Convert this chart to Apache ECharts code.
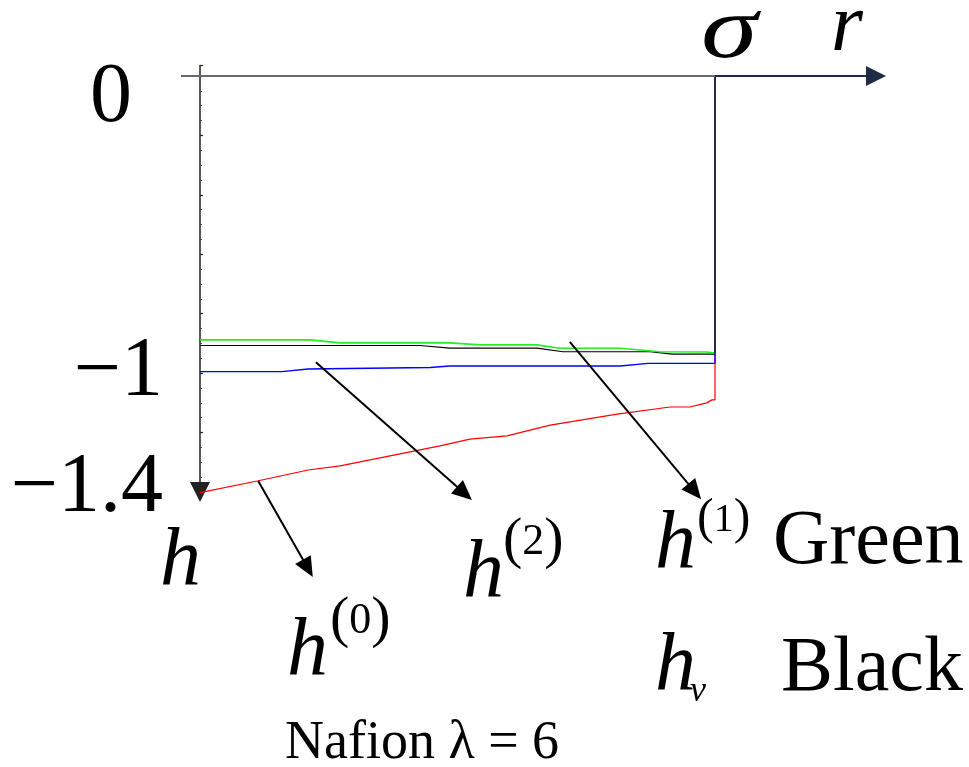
<!DOCTYPE html>
<html>
<head>
<meta charset="utf-8">
<script src="https://cdn.jsdelivr.net/npm/echarts@6/dist/echarts.min.js"></script>
<style>
  html, body { margin: 0; padding: 0; background: #ffffff; }
  #chart { width: 969px; height: 767px; }
</style>
</head>
<body>
<div id="chart"></div>
<script>
// Head profiles h(r) across the pore, r measured in units of sigma (wall at r = 1)
const rGreen = [0, 0.214, 0.272, 0.485, 0.544, 0.654, 0.699, 0.816, 0.893, 0.983, 1.0];
const hGreen = [-0.888, -0.888, -0.898, -0.898, -0.905, -0.905, -0.916, -0.916, -0.928, -0.929, -0.932];

const rBlack = [0, 0.427, 0.485, 0.654, 0.705, 0.874, 0.917, 1.0];
const hBlack = [-0.907, -0.907, -0.916, -0.916, -0.928, -0.928, -0.936, -0.936];

const rBlue = [0, 0.159, 0.210, 0.447, 0.485, 0.816, 0.870, 1.0, 1.0];
const hBlue = [-0.995, -0.995, -0.986, -0.981, -0.976, -0.976, -0.967, -0.967, -0.935];

const rRed = [0, 0.111, 0.210, 0.272, 0.466, 0.524, 0.596, 0.680, 0.810, 0.913, 0.951, 0.984, 0.994, 1.0, 1.0];
const hRed = [-1.402, -1.363, -1.326, -1.312, -1.245, -1.222, -1.211, -1.175, -1.138, -1.114, -1.114, -1.100, -1.090, -1.090, -0.935];

// wall at r = sigma
const rWall = [1.0, 1.0];
const hWall = [-0.935, 0];

// r axis segment inside the pore (0 .. sigma)
const rAxisInside = [-0.035, 1.0];
const hAxisInside = [0, 0];

// labelled ticks on the h axis
const yLabelValues = [0, -1, -1.4];
const yLabelTexts = ['0', '\u22121', '\u22121.4'];

// pointer arrows from each curve towards its name: start and tip in (r, h)
const pointerFrom = [[0.113, -1.363], [0.225, -0.963], [0.718, -0.895]];
const pointerTip  = [[0.219, -1.686], [0.528, -1.427], [0.973, -1.424]];

const zip = (xs, ys) => xs.map((x, i) => [x, ys[i]]);

const SERIF = "'Liberation Serif', serif";

function curve(name, rs, hs, color, width) {
  return {
    name: name,
    type: 'line',
    data: zip(rs, hs),
    showSymbol: false,
    symbol: 'none',
    clip: false,
    silent: true,
    lineStyle: { color: color, width: width },
    emphasis: { disabled: true }
  };
}

function yLabel(value) {
  for (let i = 0; i < yLabelValues.length; i++) {
    if (Math.abs(value - yLabelValues[i]) < 1e-6) {
      if (i === 0) return '{z|' + yLabelTexts[i] + '}';
      if (i === 2) return '{b|' + yLabelTexts[i] + '}';
      return '{n|' + yLabelTexts[i] + '}';
    }
  }
  return '';
}

const chart = echarts.init(document.getElementById('chart'), null, { renderer: 'canvas' });

const labelFont = { fontFamily: SERIF, fontSize: 84, color: '#000000' };

const option = {
  animation: false,
  backgroundColor: '#ffffff',
  grid: { left: 182, top: 65.6, width: 694, height: 426.4, containLabel: false },
  xAxis: {
    type: 'value',
    min: -0.035,
    max: 1.3126,
    axisLine: {
      show: true,
      onZero: true,
      symbol: ['none', 'triangle'],
      symbolSize: [20, 20],
      lineStyle: { color: '#1f2a44', width: 2 }
    },
    axisTick: { show: false },
    axisLabel: { show: false },
    splitLine: { show: false }
  },
  yAxis: {
    type: 'value',
    min: -1.4,
    max: 0.035,
    interval: 0.2,
    axisLine: {
      show: true,
      onZero: true,
      symbol: ['triangle', 'none'],
      symbolSize: [20, 20],
      lineStyle: { color: '#222222', width: 1.5 }
    },
    axisTick: { show: true, inside: true, length: 3, lineStyle: { color: '#222222', width: 1.2 } },
    minorTick: { show: true, splitNumber: 4, length: 2, lineStyle: { color: '#444444', width: 1 } },
    splitLine: { show: false },
    minorSplitLine: { show: false },
    axisLabel: {
      show: true,
      margin: 19,
      formatter: yLabel,
      rich: {
        z: Object.assign({ padding: [46, 31, 0, 0] }, labelFont),
        n: Object.assign({ padding: [0, 0, 0, 0] }, labelFont),
        b: Object.assign({ padding: [0, 0, 6, 0] }, labelFont)
      }
    }
  },
  series: [
    curve('h0', rRed, hRed, '#ff0000', 1.2),
    curve('h2', rBlue, hBlue, '#0000ff', 1.3),
    curve('hv', rBlack, hBlack, '#000000', 1.2),
    curve('h1', rGreen, hGreen, '#22ee22', 1.6),
    curve('wall', rWall, hWall, '#1f2a44', 2),
    curve('axisInside', rAxisInside, hAxisInside, '#808080', 1.6)
  ]
};

chart.setOption(option);

// Symbols and annotation text
function txt(x, y, text, size, italic, extra, scaleX) {
  const style = Object.assign({
    x: 0, y: 0, text: text,
    fontFamily: SERIF,
    fontSize: size,
    fontStyle: italic ? 'italic' : 'normal',
    fill: '#000000',
    align: 'left', textAlign: 'left',
    verticalAlign: 'middle', textVerticalAlign: 'middle'
  }, extra || {});
  return { type: 'text', silent: true, z: 10, x: x, y: y, scaleX: scaleX || 1, style: style };
}

function sup(x, y, text, parenSize, digitSize) {
  return txt(x, y, '{p|(}{d|' + text + '}{p|)}', digitSize, false, {
    rich: {
      p: { fontFamily: SERIF, fontSize: parenSize, verticalAlign: 'middle', fill: '#000000' },
      d: { fontFamily: SERIF, fontSize: digitSize, verticalAlign: 'middle', fill: '#000000' }
    }
  });
}

// Pointer arrows, placed through the grid's own coordinate conversion
function pointer(from, tip) {
  const p0 = chart.convertToPixel({ gridIndex: 0 }, from);
  const p1 = chart.convertToPixel({ gridIndex: 0 }, tip);
  const dx = p1[0] - p0[0], dy = p1[1] - p0[1];
  const len = Math.sqrt(dx * dx + dy * dy);
  const ux = dx / len, uy = dy / len;
  const headLen = 20, headHalf = 9;
  const bx = p1[0] - ux * headLen, by = p1[1] - uy * headLen;
  return [
    {
      type: 'line', silent: true, z: 10,
      shape: { x1: p0[0], y1: p0[1], x2: bx + ux * 2, y2: by + uy * 2 },
      style: { stroke: '#000000', lineWidth: 2 }
    },
    {
      type: 'polygon', silent: true, z: 10,
      shape: { points: [[p1[0], p1[1]], [bx - uy * headHalf, by + ux * headHalf], [bx + uy * headHalf, by - ux * headHalf]] },
      style: { fill: '#000000' }
    }
  ];
}

const arrowEls = [];
pointerFrom.forEach((p, i) => { arrowEls.push.apply(arrowEls, pointer(p, pointerTip[i])); });

chart.setOption({
  graphic: {
    elements: arrowEls.concat([
      txt(831, 28, 'r', 82, true),
      txt(701, 34, '\u03c3', 88, true, null, 1.3),
      txt(160, 562, 'h', 82, true),
      txt(287, 652, 'h', 82, true),
      sup(330, 621, '0', 58, 44),
      txt(463, 574, 'h', 82, true),
      sup(503, 542, '2', 58, 44),
      txt(655, 545, 'h', 82, true),
      sup(697, 520, '1', 50, 40),
      txt(773, 543, 'Green', 78, false),
      txt(655, 667, 'h', 82, true),
      txt(690, 692, 'v', 36, true),
      txt(781, 670, 'Black', 78, false),
      txt(285, 744, 'Nafion \u03bb = 6', 54, false)
    ])
  }
});
</script>
</body>
</html>
